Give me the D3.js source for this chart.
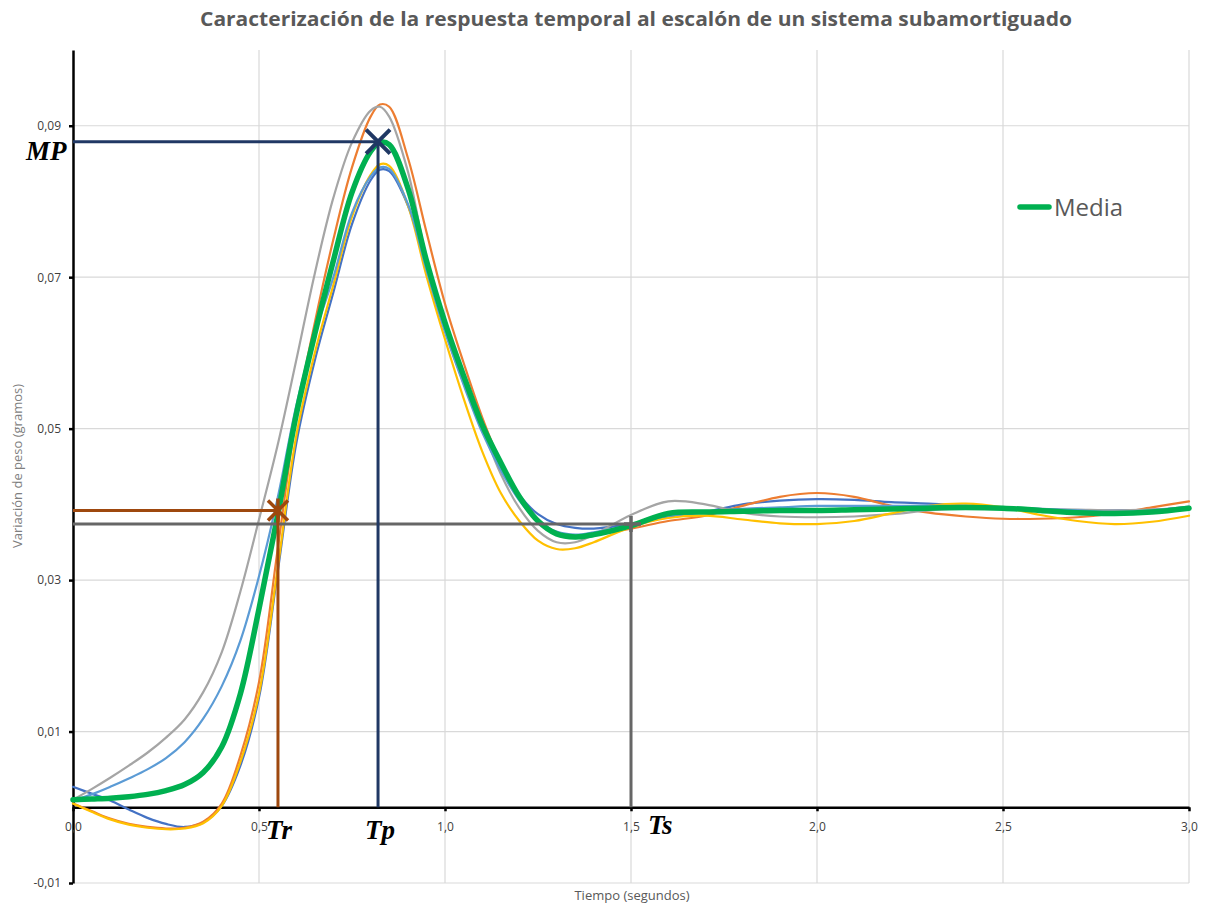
<!DOCTYPE html>
<html>
<head>
<meta charset="utf-8">
<script src="https://cdn.jsdelivr.net/npm/d3@7"></script>
<style>
  body { margin: 0; background: #fff; }
  svg { display: block; }
</style>
</head>
<body>
<div id="chart"></div>
<script>
// Tiempo (s) de cada muestra
var times = [0, 0.05, 0.1, 0.15, 0.2, 0.25, 0.3, 0.35, 0.4, 0.45, 0.5, 0.55, 0.6, 0.65, 0.7, 0.75, 0.8, 0.825,
  0.85, 0.9, 0.95, 1.0, 1.05, 1.1, 1.15, 1.2, 1.25, 1.3, 1.35, 1.4,
  1.5, 1.6, 1.7, 1.8, 1.9, 2.0, 2.1, 2.2, 2.3, 2.4, 2.5, 2.6, 2.7, 2.8, 2.9, 3.0];

// Ensayos individuales (gramos)
var ensayo1 = [0.0027, 0.0018, 0.0009, -0.0003, -0.0014, -0.0022, -0.0026, -0.0020, 0.0002, 0.0055, 0.0145, 0.0310, 0.0480, 0.0590, 0.0680, 0.0770, 0.0828, 0.0842,
  0.0840, 0.0795, 0.0712, 0.0630, 0.0560, 0.0500, 0.0450, 0.0412, 0.0387, 0.0374, 0.0369, 0.0368,
  0.0374, 0.0383, 0.0390, 0.0400, 0.0405, 0.0407, 0.0406, 0.0403, 0.0401, 0.0398, 0.0395, 0.0393, 0.0392, 0.0392, 0.0393, 0.0396];
var ensayo2 = [0.0005, -0.0005, -0.0015, -0.0022, -0.0026, -0.0028, -0.0027, -0.0019, 0.0005, 0.0068, 0.0165, 0.0340, 0.0515, 0.0640, 0.0750, 0.0845, 0.0912, 0.0928,
  0.0925, 0.0858, 0.0760, 0.0665, 0.0587, 0.0515, 0.0455, 0.0410, 0.0380, 0.0362, 0.0357, 0.0360,
  0.0368, 0.0378, 0.0385, 0.0398, 0.0410, 0.0415, 0.0410, 0.0398, 0.0389, 0.0384, 0.0381, 0.0381, 0.0383, 0.0388, 0.0396, 0.0404];
var ensayo3 = [0.0010, 0.0024, 0.0039, 0.0055, 0.0072, 0.0092, 0.0116, 0.0152, 0.0205, 0.0285, 0.0380, 0.0478, 0.0590, 0.0705, 0.0805, 0.0878, 0.0920, 0.0925,
  0.0912, 0.0840, 0.0725, 0.0642, 0.0568, 0.0502, 0.0440, 0.0395, 0.0365, 0.0350, 0.0350, 0.0360,
  0.0386, 0.0404, 0.0400, 0.0389, 0.0384, 0.0383, 0.0384, 0.0387, 0.0392, 0.0395, 0.0395, 0.0394, 0.0393, 0.0392, 0.0393, 0.0395];
var ensayo4 = [0.0005, -0.0006, -0.0016, -0.0023, -0.0027, -0.0029, -0.0028, -0.0021, 0.0002, 0.0060, 0.0150, 0.0315, 0.0490, 0.0600, 0.0690, 0.0780, 0.0835, 0.0849,
  0.0847, 0.0795, 0.0702, 0.0618, 0.0540, 0.0470, 0.0415, 0.0378, 0.0352, 0.0341, 0.0342, 0.0350,
  0.0370, 0.0382, 0.0385, 0.0380, 0.0375, 0.0374, 0.0378, 0.0388, 0.0398, 0.0401, 0.0396, 0.0386, 0.0378, 0.0374, 0.0377, 0.0385];
var ensayo5 = [0.0009, 0.0017, 0.0027, 0.0038, 0.0050, 0.0065, 0.0086, 0.0117, 0.0160, 0.0220, 0.0305, 0.0408, 0.0530, 0.0625, 0.0700, 0.0785, 0.0833, 0.0845,
  0.0843, 0.0797, 0.0710, 0.0628, 0.0558, 0.0495, 0.0445, 0.0405, 0.0378, 0.0364, 0.0360, 0.0363,
  0.0373, 0.0385, 0.0390, 0.0394, 0.0396, 0.0398, 0.0398, 0.0398, 0.0398, 0.0398, 0.0396, 0.0394, 0.0392, 0.0390, 0.0392, 0.0397];
var media = [0.0010, 0.0011, 0.0012, 0.0014, 0.0017, 0.0022, 0.0030, 0.0046, 0.0080, 0.0150, 0.0262, 0.0385, 0.0518, 0.0625, 0.0722, 0.0812, 0.0866, 0.0878,
  0.0875, 0.0818, 0.0722, 0.0640, 0.0570, 0.0505, 0.0455, 0.0410, 0.0378, 0.0361, 0.0357, 0.0360,
  0.0372, 0.0388, 0.0390, 0.0391, 0.0392, 0.0392, 0.0393, 0.0394, 0.0395, 0.0396, 0.0395, 0.0392, 0.0389, 0.0388, 0.0390, 0.0395];

// Ticks
var yTicks = [-0.01, 0.01, 0.03, 0.05, 0.07, 0.09];
var xTicks = [0, 0.5, 1.0, 1.5, 2.0, 2.5, 3.0];

// Parámetros característicos
var mp = 0.0879, tp = 0.82;
var tr = 0.551, trValue = 0.0392;
var ts = 1.5, tsValue = 0.0374;

var width = 1205, height = 906;

var svg = d3.select('#chart').append('svg')
  .attr('width', width)
  .attr('height', height);

var x = d3.scaleLinear().domain([0, 3]).range([73, 1189]);
var y = d3.scaleLinear().domain([-0.01, 0.10]).range([883, 50]);

var comma = function(f) { return function(d) { return f(d).replace('.', ',').replace('\u2212', '-'); }; };

// Title
svg.append('text')
  .attr('x', 636)
  .attr('y', 26)
  .attr('text-anchor', 'middle')
  .attr('textLength', 872)
  .attr('lengthAdjust', 'spacingAndGlyphs')
  .style('font-family', '"Open Sans", sans-serif')
  .style('font-weight', 'bold')
  .style('font-size', '19px')
  .style('fill', '#595959')
  .text('Caracterización de la respuesta temporal al escalón de un sistema subamortiguado');

// Gridlines
svg.append('g').selectAll('line.hgrid')
  .data(yTicks)
  .enter().append('line')
  .attr('x1', x(0)).attr('x2', x(3))
  .attr('y1', d => y(d)).attr('y2', d => y(d))
  .style('stroke', '#d9d9d9').style('stroke-width', 1.2);

svg.append('g').selectAll('line.vgrid')
  .data(xTicks.slice(1))
  .enter().append('line')
  .attr('x1', d => x(d)).attr('x2', d => x(d))
  .attr('y1', y(-0.01)).attr('y2', y(0.10))
  .style('stroke', '#d9d9d9').style('stroke-width', 1.2);

// Axes
var yAxis = svg.append('g')
  .attr('transform', 'translate(' + x(0) + ',0)')
  .call(d3.axisLeft(y).tickValues(yTicks).tickFormat(comma(d3.format('.2f'))).tickSize(4).tickSizeOuter(0).tickPadding(8));

var xAxis = svg.append('g')
  .attr('transform', 'translate(0,' + y(0) + ')')
  .call(d3.axisBottom(x).tickValues(xTicks).tickFormat(comma(d3.format('.1f'))).tickSize(4).tickSizeOuter(0).tickPadding(11));

[yAxis, xAxis].forEach(function(a) {
  a.select('.domain').style('stroke', '#000').style('stroke-width', 2.5);
  a.selectAll('.tick line').style('stroke', '#000').style('stroke-width', 2.5);
  a.selectAll('.tick text')
    .style('font-family', '"Open Sans", sans-serif')
    .style('font-size', '12px')
    .style('fill', '#404040');
});

// Axis titles
svg.append('text')
  .attr('transform', 'translate(22,466) rotate(-90)')
  .attr('text-anchor', 'middle')
  .style('font-family', '"Open Sans", sans-serif')
  .style('font-size', '13px')
  .style('fill', '#7f7f7f')
  .text('Variación de peso (gramos)');

svg.append('text')
  .attr('x', 632)
  .attr('y', 900)
  .attr('text-anchor', 'middle')
  .style('font-family', '"Open Sans", sans-serif')
  .style('font-size', '13px')
  .style('fill', '#595959')
  .text('Tiempo (segundos)');

// Series
var series = [
  {name: 'Ensayo 1', values: ensayo1, color: '#4472C4', w: 2.2},
  {name: 'Ensayo 2', values: ensayo2, color: '#ED7D31', w: 2.2},
  {name: 'Ensayo 3', values: ensayo3, color: '#A5A5A5', w: 2.2},
  {name: 'Ensayo 4', values: ensayo4, color: '#FFC000', w: 2.2},
  {name: 'Ensayo 5', values: ensayo5, color: '#5B9BD5', w: 2.2},
  {name: 'Media', values: media, color: '#00B050', w: 5.5}
];

var line = d3.line()
  .x(d => x(d[0]))
  .y(d => y(d[1]))
  .curve(d3.curveCatmullRom.alpha(0.5));

svg.append('g').selectAll('path.serie')
  .data(series)
  .enter().append('path')
  .attr('class', 'serie')
  .attr('d', d => line(times.map((t, i) => [t, d.values[i]])))
  .style('fill', 'none')
  .style('stroke', d => d.color)
  .style('stroke-width', d => d.w)
  .style('stroke-linejoin', 'round')
  .style('stroke-linecap', 'round');

// Annotations
var ann = svg.append('g');

function guide(t, v, color) {
  ann.append('line')
    .attr('x1', x(0)).attr('x2', x(t))
    .attr('y1', y(v)).attr('y2', y(v))
    .style('stroke', color).style('stroke-width', 3);
  ann.append('line')
    .attr('x1', x(t)).attr('x2', x(t))
    .attr('y1', y(v)).attr('y2', y(0))
    .style('stroke', color).style('stroke-width', 3);
}

guide(ts, tsValue, '#666666');
guide(tr, trValue, '#9E480E');
guide(tp, mp, '#203864');

// Ts marker (+)
ann.append('path')
  .attr('d', 'M' + (x(ts) - 7) + ',' + y(tsValue) + 'h17M' + x(ts) + ',' + (y(tsValue) - 8) + 'v16')
  .style('stroke', '#666666').style('stroke-width', 3.5).style('fill', 'none');

// Tr marker (asterisco)
var trx = x(tr), try_ = y(trValue);
ann.append('path')
  .attr('d', 'M' + (trx - 10) + ',' + (try_ - 10) + 'L' + (trx + 10) + ',' + (try_ + 10) +
             'M' + (trx - 10) + ',' + (try_ + 10) + 'L' + (trx + 10) + ',' + (try_ - 10) +
             'M' + trx + ',' + (try_ - 12) + 'V' + (try_ + 12))
  .style('stroke', '#9E480E').style('stroke-width', 3.5).style('fill', 'none');

// MP marker (X)
var mpx = x(tp), mpy = y(mp);
ann.append('path')
  .attr('d', 'M' + (mpx - 12) + ',' + (mpy - 12) + 'L' + (mpx + 12) + ',' + (mpy + 12) +
             'M' + (mpx - 12) + ',' + (mpy + 12) + 'L' + (mpx + 12) + ',' + (mpy - 12))
  .style('stroke', '#203864').style('stroke-width', 4).style('fill', 'none');

// Etiquetas de parámetros
var labels = [
  {text: 'MP', x: 26, y: 160},
  {text: 'Tr', x: x(tr) - 12, y: 839},
  {text: 'Tp', x: x(tp) - 13, y: 839},
  {text: 'Ts', x: x(ts) + 17, y: 834}
];

ann.selectAll('text.param')
  .data(labels)
  .enter().append('text')
  .attr('class', 'param')
  .attr('x', d => d.x)
  .attr('y', d => d.y)
  .style('font-family', '"Liberation Serif", "Times New Roman", serif')
  .style('font-weight', 'bold')
  .style('font-style', 'italic')
  .style('font-size', '27px')
  .style('fill', '#000')
  .text(d => d.text);

// Legend
var legend = svg.append('g');
legend.append('line')
  .attr('x1', 1020).attr('x2', 1049)
  .attr('y1', 207).attr('y2', 207)
  .style('stroke', '#00B050').style('stroke-width', 5.5).style('stroke-linecap', 'round');
legend.append('text')
  .attr('x', 1054)
  .attr('y', 216)
  .style('font-family', '"Open Sans", sans-serif')
  .style('font-size', '24px')
  .style('fill', '#595959')
  .text('Media');
</script>
</body>
</html>
